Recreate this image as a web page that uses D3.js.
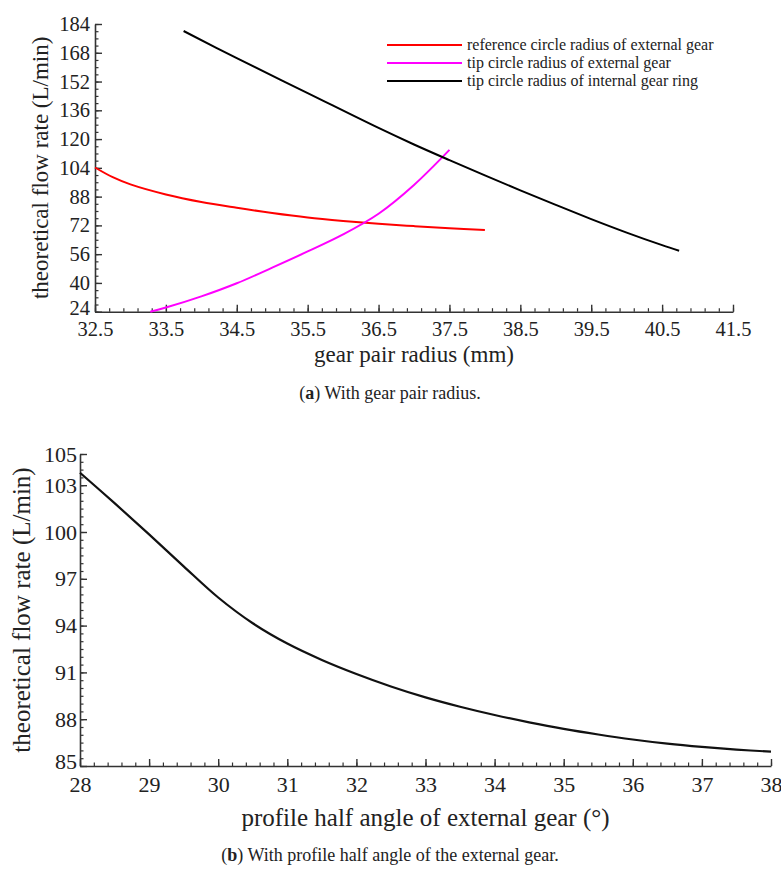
<!DOCTYPE html>
<html>
<head>
<meta charset="utf-8">
<script src="https://cdn.jsdelivr.net/npm/d3@7"></script>
<style>
  html, body { margin: 0; padding: 0; background: #fff; }
  svg text { font-family: "Liberation Serif", "Times New Roman", serif !important; fill: #222; }
</style>
</head>
<body>
<svg id="chart" width="781" height="873"></svg>
<script>
// ---------- Data: panel (a) ----------
const gearRadiusTicks = [32.5, 33.5, 34.5, 35.5, 36.5, 37.5, 38.5, 39.5, 40.5, 41.5];
const flowTicksA = [24, 40, 56, 72, 88, 104, 120, 136, 152, 168, 184];

const refCircleX = [32.5, 32.75, 33.0, 33.5, 34.0, 34.5, 35.0, 35.5, 36.0, 36.5, 37.0, 37.5, 38.0];
const refCircleY = [104.2, 98.8, 94.8, 89.2, 85.0, 81.8, 78.9, 76.4, 74.5, 72.9, 71.6, 70.4, 69.4];

const tipExtX = [33.28, 33.5, 34.0, 34.5, 35.0, 35.5, 36.0, 36.5, 37.0, 37.5];
const tipExtY = [24.0, 26.3, 32.5, 39.8, 48.5, 57.5, 67.0, 78.5, 94.5, 114.0];

const tipIntX = [33.75, 34.5, 35.5, 36.5, 37.0, 37.5, 38.0, 38.5, 39.0, 39.5, 40.0, 40.5, 40.74];
const tipIntY = [180.1, 165.0, 145.6, 126.2, 117.0, 108.3, 99.8, 91.5, 83.4, 75.5, 68.0, 61.0, 57.9];

const seriesNamesA = ["reference circle radius of external gear", "tip circle radius of external gear", "tip circle radius of internal gear ring"];
const seriesColorsA = ["#ff0000", "#ff00ff", "#000000"];

// ---------- Data: panel (b) ----------
const angleTicks = [28, 29, 30, 31, 32, 33, 34, 35, 36, 37, 38];
const flowTicksB = [85, 88, 91, 94, 97, 100, 103, 105];
const angleX = [28, 28.5, 29, 29.5, 30, 30.5, 31, 31.5, 32, 32.5, 33, 33.5, 34, 34.5, 35, 35.5, 36, 36.5, 37, 37.5, 38];
const angleFlow = [103.8, 101.85, 99.85, 97.8, 95.8, 94.15, 92.85, 91.8, 90.9, 90.1, 89.4, 88.8, 88.27, 87.8, 87.38, 87.02, 86.7, 86.43, 86.22, 86.05, 85.92];

// ---------- Drawing ----------
const svg = d3.select("#chart");
const FONT = "'Liberation Serif', 'Times New Roman', serif";

function drawPanel(opt) {
  const g = svg.append("g");
  const x = d3.scaleLinear().domain(opt.xDomain).range([opt.left, opt.right]);
  const y = d3.scaleLinear().domain(opt.yDomain).range([opt.bottom, opt.top]);

  // minor x ticks
  g.append("g").attr("transform", `translate(0,${opt.bottom})`)
    .call(d3.axisBottom(x).tickValues(opt.xMinor).tickSize(-3.5).tickFormat(""))
    .call(s => s.select(".domain").remove())
    .call(s => s.selectAll("line").attr("stroke", "#333").attr("stroke-width", 1.2));
  // minor y ticks
  g.append("g").attr("transform", `translate(${opt.left},0)`)
    .call(d3.axisLeft(y).tickValues(opt.yMinor).tickSize(-3.5).tickFormat(""))
    .call(s => s.select(".domain").remove())
    .call(s => s.selectAll("line").attr("stroke", "#333").attr("stroke-width", 1.2));

  // major x axis
  const xa = g.append("g").attr("transform", `translate(0,${opt.bottom})`)
    .call(d3.axisBottom(x).tickValues(opt.xTicks).tickSize(-7).tickSizeOuter(0).tickPadding(opt.xPad)
      .tickFormat(opt.xFormat));
  xa.attr("font-family", FONT);
  xa.select(".domain").attr("stroke", "#333").attr("stroke-width", 1.6);
  xa.selectAll("line").attr("stroke", "#333").attr("stroke-width", 1.4);
  xa.selectAll("text").attr("font-size", opt.tickFont).attr("fill", "#333")
    .style("font-family", FONT);

  // major y axis
  const ya = g.append("g").attr("transform", `translate(${opt.left},0)`)
    .call(d3.axisLeft(y).tickValues(opt.yTicks).tickSize(-7).tickSizeOuter(0).tickPadding(opt.yPad)
      .tickFormat(d3.format("d")));
  ya.attr("font-family", FONT);
  ya.select(".domain").attr("stroke", "#333").attr("stroke-width", 1.6);
  ya.selectAll("line").attr("stroke", "#333").attr("stroke-width", 1.4);
  ya.selectAll("text").attr("font-size", opt.tickFont).attr("fill", "#333")
    .style("font-family", FONT)
    .attr("dy", d => d === opt.yDomain[0] ? "0.12em" : "0.32em");

  // lines
  const line = d3.line().x(d => x(d[0])).y(d => y(d[1])).curve(d3.curveCatmullRom.alpha(0.5));
  opt.series.forEach(s => {
    const pts = s.xs.map((v, i) => [v, s.ys[i]]);
    g.append("path").datum(pts).attr("d", line)
      .attr("fill", "none").attr("stroke", s.color).attr("stroke-width", s.width || 2);
  });

  // axis titles
  g.append("text").attr("x", (opt.left + opt.right) / 2 + opt.xTitleDx).attr("y", opt.xTitleY)
    .attr("text-anchor", "middle").attr("font-size", opt.titleFont).attr("fill", "#333")
    .style("font-family", FONT)
    .text(opt.xTitle);
  g.append("text").attr("transform", `translate(${opt.yTitleX},${(opt.top + opt.bottom) / 2}) rotate(-90)`)
    .attr("text-anchor", "middle").attr("dominant-baseline", "middle")
    .attr("font-size", opt.titleFont).attr("fill", "#333")
    .style("font-family", FONT)
    .text(opt.yTitle);

  return { x, y, g };
}

// Panel (a)
const pa = drawPanel({
  left: 95, right: 733, top: 24, bottom: 311.7,
  xDomain: [32.5, 41.5], yDomain: [24, 184],
  xTicks: gearRadiusTicks, yTicks: flowTicksA,
  xMinor: d3.range(32.5, 41.5001, 0.2).map(v => +v.toFixed(2)),
  yMinor: d3.range(24, 184.001, 4),
  xFormat: d3.format(".1f"), xPad: 10, yPad: 5,
  tickFont: 20.5, titleFont: 23,
  xTitle: "gear pair radius (mm)", xTitleY: 362, xTitleDx: 0,
  yTitle: "theoretical flow rate (L/min)", yTitleX: 43,
  series: [
    { xs: refCircleX, ys: refCircleY, color: seriesColorsA[0] },
    { xs: tipExtX, ys: tipExtY, color: seriesColorsA[1] },
    { xs: tipIntX, ys: tipIntY, color: seriesColorsA[2] }
  ]
});

// legend for panel (a)
const leg = svg.append("g");
seriesNamesA.forEach((name, i) => {
  const yy = 45 + i * 18;
  leg.append("line").attr("x1", 387).attr("x2", 462).attr("y1", yy).attr("y2", yy)
    .attr("stroke", seriesColorsA[i]).attr("stroke-width", 2);
  leg.append("text").attr("x", 467).attr("y", yy + 5).attr("font-size", 16).attr("fill", "#222")
    .style("font-family", FONT).text(name);
});

// caption (a)
const capA = svg.append("text").attr("x", 390).attr("y", 399).attr("text-anchor", "middle")
  .attr("font-size", 18).attr("fill", "#222").style("font-family", FONT);
capA.append("tspan").text("(");
capA.append("tspan").attr("font-weight", "bold").text("a");
capA.append("tspan").text(") With gear pair radius.");

// Panel (b)
const pb = drawPanel({
  left: 80, right: 771, top: 454, bottom: 766,
  xDomain: [28, 38], yDomain: [85, 105],
  xTicks: angleTicks, yTicks: flowTicksB,
  xMinor: d3.range(28, 38.001, 0.2).map(v => +v.toFixed(2)),
  yMinor: d3.range(85, 105.001, 0.5),
  xFormat: d3.format("d"), xPad: 10, yPad: 3,
  tickFont: 22, titleFont: 25,
  xTitle: "profile half angle of external gear (°)", xTitleY: 826, xTitleDx: 0,
  yTitle: "theoretical flow rate (L/min)", yTitleX: 24,
  series: [
    { xs: angleX, ys: angleFlow, color: "#111", width: 2.2 }
  ]
});

// caption (b)
const capB = svg.append("text").attr("x", 390).attr("y", 861).attr("text-anchor", "middle")
  .attr("font-size", 18).attr("fill", "#222").style("font-family", FONT);
capB.append("tspan").text("(");
capB.append("tspan").attr("font-weight", "bold").text("b");
capB.append("tspan").text(") With profile half angle of the external gear.");
</script>
</body>
</html>
